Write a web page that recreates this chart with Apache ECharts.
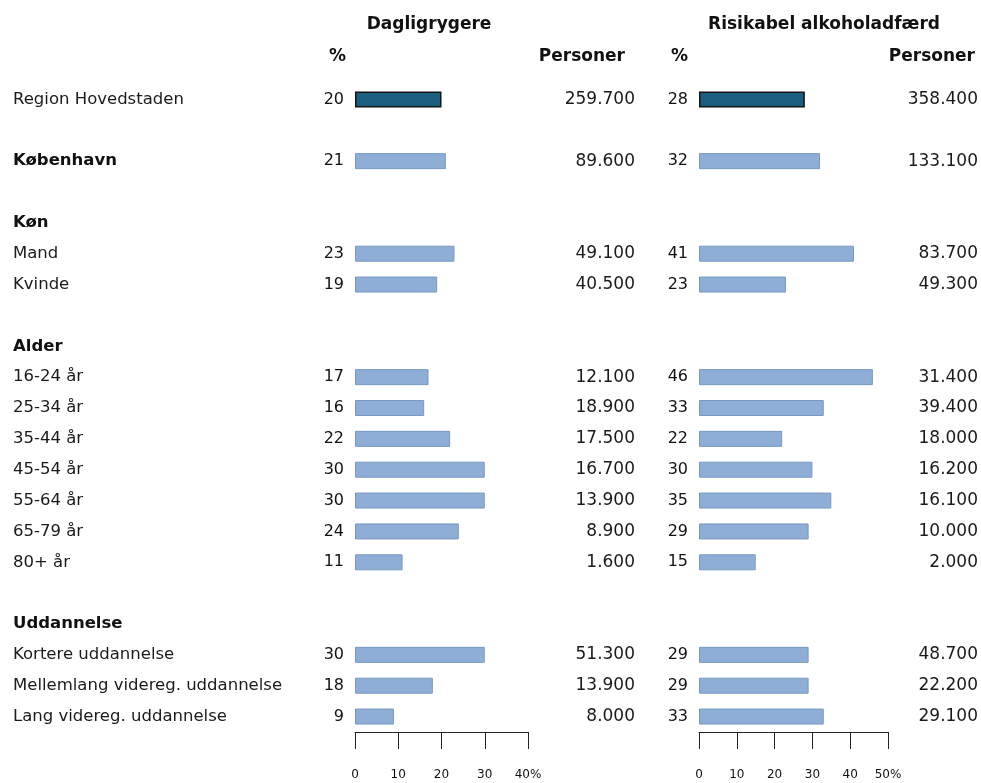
<!DOCTYPE html>
<html>
<head>
<meta charset="utf-8">
<script src="https://cdn.jsdelivr.net/npm/echarts@6/dist/echarts.min.js"></script>
<style>
  html, body { margin: 0; padding: 0; background: #fff; }
  #chart { width: 981px; height: 783px; }
</style>
</head>
<body>
<div id="chart"></div>
<script>
// rows, top to bottom ('' = spacer row)
const rows = [
  'Region Hovedstaden', '', 'København', '', 'Køn', 'Mand', 'Kvinde', '',
  'Alder', '16-24 år', '25-34 år', '35-44 år', '45-54 år', '55-64 år', '65-79 år', '80+ år', '',
  'Uddannelse', 'Kortere uddannelse', 'Mellemlang videreg. uddannelse', 'Lang videreg. uddannelse'
];
const boldRows = ['København', 'Køn', 'Alder', 'Uddannelse'];

// Dagligrygere
const smokePct = [20, null, 21, null, null, 23, 19, null, null, 17, 16, 22, 30, 30, 24, 11, null, null, 30, 18, 9];
const smokePersons = [259700, null, 89600, null, null, 49100, 40500, null, null, 12100, 18900, 17500, 16700, 13900, 8900, 1600, null, null, 51300, 13900, 8000];

// Risikabel alkoholadfærd
const alcPct = [28, null, 32, null, null, 41, 23, null, null, 46, 33, 22, 30, 35, 29, 15, null, null, 29, 29, 33];
const alcPersons = [358400, null, 133100, null, null, 83700, 49300, null, null, 31400, 39400, 18000, 16200, 16100, 10000, 2000, null, null, 48700, 22200, 29100];

const smokeTicks = [0, 10, 20, 30, 40];
const alcTicks = [0, 10, 20, 30, 40, 50];

const FONT = 'DejaVu Sans';
const dark = '#1b5e7e';
const light = '#8eaed6';

const fmtPersons = v => (v == null ? '' : String(v).replace(/\B(?=(\d{3})+(?!\d))/g, '.'));

const chart = echarts.init(document.getElementById('chart'));

function xAxisFor(gridIndex, ticks) {
  const max = ticks[ticks.length - 1];
  return {
    type: 'value', gridIndex, min: 0, max, interval: 10,
    position: 'bottom',
    axisLine: { show: true, lineStyle: { color: '#222', width: 1 } },
    axisTick: { show: true, length: 17, inside: false, lineStyle: { color: '#222' } },
    splitLine: { show: false },
    axisLabel: {
      margin: 37, color: '#111', fontFamily: FONT, fontSize: 12,
      formatter: v => (v === max ? v + '%' : String(v))
    }
  };
}

function yCat(gridIndex, data, opts) {
  return Object.assign({
    type: 'category', gridIndex, data, inverse: true,
    axisLine: { show: false }, axisTick: { show: false }, splitLine: { show: false }
  }, opts);
}

function barSeries(xi, yi, data) {
  return {
    type: 'bar', xAxisIndex: xi, yAxisIndex: yi,
    data: data.map((v, i) => (i === 0
      ? { value: v, itemStyle: { color: dark, borderColor: '#141414', borderWidth: 1.5 } }
      : v)),
    barWidth: 16,
    itemStyle: { color: light, borderColor: '#7898c2', borderWidth: 1 },
    label: {
      show: true, position: 'left', distance: 11,
      color: '#111', fontFamily: FONT, fontSize: 16,
      formatter: p => p.value
    },
    silent: true
  };
}

const headerText = (x, y, text, align) => ({
  type: 'text', x, y,
  style: { text, fill: '#111', font: `bold 17px "${FONT}"`, align, verticalAlign: 'middle' }
});

const option = {
  backgroundColor: '#fff',
  animation: false,
  grid: [
    { left: 355, width: 173, top: 84, bottom: 51 },
    { left: 699, width: 189, top: 84, bottom: 51 }
  ],
  xAxis: [xAxisFor(0, smokeTicks), xAxisFor(1, alcTicks)],
  yAxis: [
    yCat(0, rows, {
      position: 'left',
      axisLabel: {
        align: 'left', margin: 342, color: '#1a1a1a', fontFamily: FONT, fontSize: 16.5,
        formatter: v => (boldRows.includes(v) ? '{b|' + v + '}' : v),
        rich: { b: { fontWeight: 'bold', fontFamily: FONT, fontSize: 16.5, color: '#111' } }
      }
    }),
    yCat(0, smokePersons.map(fmtPersons), {
      position: 'right',
      axisLabel: { align: 'right', margin: 107, color: '#1a1a1a', fontFamily: FONT, fontSize: 17, interval: 0 }
    }),
    yCat(1, rows, { position: 'left', axisLabel: { show: false } }),
    yCat(1, alcPersons.map(fmtPersons), {
      position: 'right',
      axisLabel: { align: 'right', margin: 90, color: '#1a1a1a', fontFamily: FONT, fontSize: 17, interval: 0 }
    })
  ],
  graphic: [
    headerText(429, 25, 'Dagligrygere', 'center'),
    headerText(824, 25, 'Risikabel alkoholadfærd', 'center'),
    headerText(329, 57, '%', 'left'),
    headerText(625, 57, 'Personer', 'right'),
    headerText(671, 57, '%', 'left'),
    headerText(975, 57, 'Personer', 'right')
  ],
  series: [
    barSeries(0, 0, smokePct),
    barSeries(1, 2, alcPct)
  ]
};

chart.setOption(option);
</script>
</body>
</html>
